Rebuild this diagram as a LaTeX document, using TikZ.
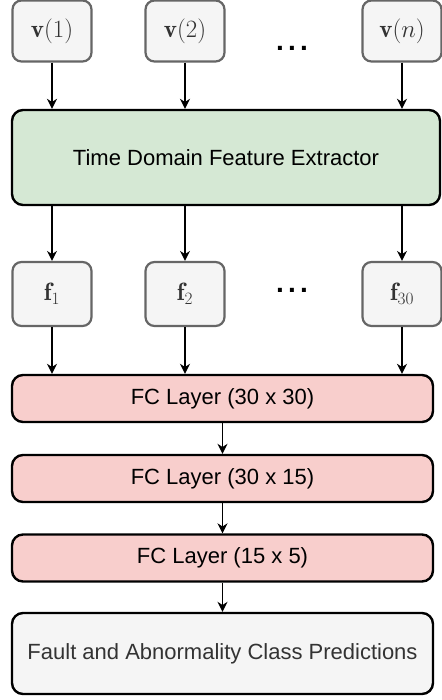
\documentclass[tikz,border=0pt]{standalone}
\usepackage{fontspec}
\setsansfont{Liberation Sans}
\usepackage{amsmath}
\usetikzlibrary{arrows.meta}
\definecolor{boxgray}{HTML}{F5F5F5}
\definecolor{edgegray}{HTML}{666666}
\definecolor{labelgray}{HTML}{333333}
\definecolor{extgreen}{HTML}{D5E8D4}
\definecolor{fcred}{HTML}{F8CECC}
\begin{document}
\begin{tikzpicture}[x=1pt,y=-1pt,
  inbox/.style={draw=edgegray,fill=boxgray,line width=2.2pt,rounded corners=9pt,
    minimum width=79pt,minimum height=61pt,inner sep=0pt,text=labelgray,
    font=\fontsize{25}{28}\selectfont},
  bigbox/.style={draw=black,line width=2.4pt,rounded corners=11pt,inner sep=0pt,
    font=\sffamily\fontsize{22}{26}\selectfont},
  fcbox/.style={bigbox,fill=fcred,minimum width=421pt,minimum height=47pt},
  arr/.style={-{Stealth[length=10pt,width=10pt]},line width=1.3pt},
  dots/.style={inner sep=0pt,font=\sffamily\bfseries\fontsize{28}{28}\selectfont}]
\useasboundingbox (0,0) rectangle (441,700);
% inputs
\node[inbox] (v1) at (52,31) {$\mathbf{v}(1)$};
\node[inbox] (v2) at (185,31) {$\mathbf{v}(2)$};
\node[inbox] (vn) at (402,31) {$\mathbf{v}(n)$};
\node[dots,anchor=base] (vd) at (292,51) {.\kern4.2pt.\kern4.2pt.};
% extractor
\node[bigbox,fill=extgreen,minimum width=428pt,minimum height=95pt] (ext) at (226,157.5)
  {Time Domain Feature Extractor};
% features
\node[inbox,minimum height=64pt] (f1) at (52,294) {$\mathbf{f}_1$};
\node[inbox,minimum height=64pt] (f2) at (185,294) {$\mathbf{f}_2$};
\node[inbox,minimum height=64pt] (f30) at (402,294) {$\mathbf{f}_{30}$};
\node[dots,anchor=base] (fd) at (292,292) {.\kern4.2pt.\kern4.2pt.};
% fully connected layers
\node[fcbox] (fc1) at (222.5,398.5) {FC Layer (30 x 30)};
\node[fcbox] (fc2) at (222.5,478.5) {FC Layer (30 x 15)};
\node[fcbox] (fc3) at (222.5,558) {FC Layer (15 x 5)};
\node[bigbox,fill=boxgray,minimum width=421pt,minimum height=81pt,text=labelgray] (out) at (222.5,653.5)
  {Fault and Abnormality Class Predictions};
% connectors
\foreach \s in {v1,v2,vn} \draw[arr] (\s.south) -- (\s.south |- ext.north);
\foreach \s in {v1,v2,vn} \draw[arr] (\s.south |- ext.south) -- (\s.south |- f1.north);
\foreach \s in {f1,f2,f30} \draw[arr] (\s.south) -- (\s.south |- fc1.north);
\draw[arr] (fc1) -- (fc2);
\draw[arr] (fc2) -- (fc3);
\draw[arr] (fc3) -- (out);
\end{tikzpicture}
\end{document}
